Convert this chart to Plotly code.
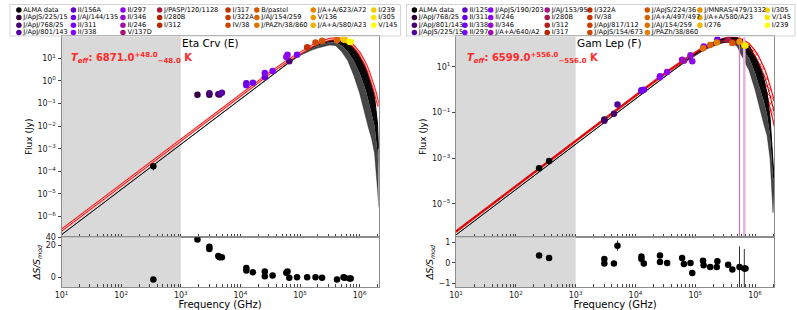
import numpy as np
import plotly.graph_objects as go

W, H = 797, 310

# ------------------------------------------------------------------ data
shade_ghz = [10, 1000]          # grey (sub-mm) band

left_star, right_star = "Eta Crv (E)", "Gam Lep (F)"
left_teff, left_teff_err = 6871.0, 48.0
right_teff, right_teff_err = 6599.0, 556.0

left_legend = ["ALMA data", "J/ApJS/225/15", "J/ApJ/768/25", "J/ApJ/801/143",
               "II/156A", "J/AJ/144/135", "II/311", "II/338",
               "II/297", "II/346", "II/246", "V/137D",
               "J/PASP/120/1128", "I/280B", "I/312",
               "I/317", "I/322A", "IV/38",
               "B/pastel", "J/AJ/154/259", "J/PAZh/38/860",
               "J/A+A/623/A72", "V/136", "J/A+A/580/A23",
               "I/239", "I/305", "V/145"]

right_legend = ["ALMA data", "J/ApJ/768/25", "J/ApJ/801/143", "J/ApJS/225/15",
                "II/125", "II/311", "II/338", "II/297",
                "J/ApJS/190/203", "II/246", "II/346", "J/A+A/640/A2",
                "J/AJ/153/95", "I/280B", "I/312", "I/317",
                "I/322A", "IV/38", "J/ApJ/817/112", "J/ApJS/154/673",
                "J/ApJS/224/36", "J/A+A/497/497", "J/AJ/154/259", "J/PAZh/38/860",
                "J/MNRAS/479/1332", "J/A+A/580/A23", "I/276",
                "I/305", "V/145", "I/239"]

# photometry, left star (GHz, Jy)
left_freq = [347, 1905, 3020, 3020, 4266, 4467, 4898, 12590, 12590, 16220,
             25700, 25700, 34670, 58880, 61660, 66070, 89130, 131800, 182000,
             234400, 416900, 537000, 562300, 676100, 707900]
left_flux = [1.66e-4, 0.24, 0.28, 0.24, 0.257, 0.25, 0.30, 0.78, 0.63, 0.83,
             2.24, 1.45, 2.69, 11.2, 14.1, 7.24, 14.1, 30.2, 49.0,
             58.9, 63.1, 69.2, 63.1, 53.7, 52.5]
left_cat = ["ALMA data", "J/ApJS/225/15", "J/ApJ/768/25", "J/ApJS/225/15", "J/ApJ/768/25",
            "J/ApJS/225/15", "J/ApJ/801/143", "II/156A", "J/AJ/144/135", "J/AJ/144/135",
            "II/311", "II/156A", "II/338", "II/297", "II/338", "J/ApJ/768/25", "II/311",
            "I/317", "IV/38", "B/pastel", "J/AJ/154/259", "I/239", "V/136", "V/145", "I/305"]
left_resid = [-0.4, 33, 17.3, 14.1, 7.6, 6.7, 6.7, 2.2, 1.55, 1.1,
              1.3, 0.26, 0.4, 1.0, 1.3, -0.06, 0.06, 0.06, 0.06,
              -0.06, -0.4, 0.06, -0.06, -0.2, -0.2]
left_resid_err = [0.2, 0.3, 0.3, 0.3, 0.2, 0.2, 0.2, 0.2, 0.2, 0.2,
                  0.2, 0.2, 0.2, 0.2, 0.2, 0.2, 0.2, 0.2, 0.2,
                  0.2, 0.2, 0.2, 0.2, 0.2, 0.2]

# photometry, right star (GHz, Jy)
right_freq = [245, 360, 3020, 3020, 4365, 5012, 12590, 12590, 13800, 25700,
              25700, 33880, 60260, 64570, 83180, 89130, 134900, 138000, 177800,
              229100, 234400, 354800, 416900, 549500, 660700, 691800]
right_flux = [3.55e-4, 7.41e-4, 0.049, 0.0437, 0.089, 0.224, 0.955, 0.89, 1.0, 3.89,
              3.55, 6.03, 20.9, 18.6, 32.4, 17.8, 66.1, 79.4, 93.3,
              117.5, 162, 162, 112, 129, 87.1, 87.1]
right_cat = ["ALMA data", "ALMA data", "J/ApJ/768/25", "J/ApJ/801/143", "J/ApJ/801/143",
             "J/ApJS/225/15", "II/125", "II/311", "II/338", "II/297", "J/ApJS/190/203",
             "II/246", "II/346", "J/A+A/640/A2", "II/346", "II/246", "J/AJ/154/259",
             "J/ApJS/190/203", "J/A+A/497/497", "J/PAZh/38/860", "II/311", "I/280B",
             "J/ApJS/224/36", "J/MNRAS/479/1332", "I/305", "V/145"]
right_resid = [0.36, 0.24, 0.19, -0.03, -0.03, 0.84, 0.31, 0.19, -0.03, 0.36,
               0.05, 0.0, 0.24, -0.05, 0.0, -0.48, 0.11, -0.11, -0.19,
               -0.19, 0.08, -0.08, -0.32, -0.19, -0.27, -0.27]
right_resid_err = [0.1, 0.12, 0.05, 0.05, 0.05, 0.25, 0.1, 0.08, 0.05, 0.1,
                   0.06, 0.04, 0.15, 0.05, 0.05, 0.05, 0.1, 0.05, 0.12,
                   0.05, 0.15, 0.05, 0.05, 1.0, 0.95, 0.05]

# model curves (log10 GHz, log10 Jy)
model_logfreq = [1, 4, 4.5, 4.8, 5.0, 5.1, 5.2, 5.3, 5.4, 5.5, 5.6, 5.7, 5.8, 5.9,
                 6.0, 6.05, 6.1, 6.15, 6.2, 6.25, 6.3, 6.32]
left_bb = [-6.60, -0.615, 0.351, 0.901, 1.239, 1.395, 1.538, 1.663, 1.764, 1.835, 1.864,
           1.837, 1.736, 1.537, 1.211, 0.991, 0.725, 0.409, 0.036, -0.40, -0.91, -1.133]
left_spec_hi = [-6.80, -0.80, 0.20, 0.80, 1.22, 1.38, 1.54, 1.68, 1.79, 1.85, 1.87,
                1.83, 1.70, 1.48, 1.12, 0.90, 0.62, 0.30, -0.15, -0.70, -1.90, -3.00]
left_spec_core = [-6.80, -0.80, 0.20, 0.78, 1.16, 1.30, 1.44, 1.56, 1.65, 1.70, 1.70,
                  1.55, 1.30, 0.90, 0.35, 0.00, -0.40, -0.90, -1.40, -2.00, -3.20, -4.00]
left_spec_lo = [-6.80, -0.80, 0.20, 0.76, 1.12, 1.25, 1.36, 1.45, 1.52, 1.58, 1.55,
                1.28, 0.90, 0.25, -0.55, -1.10, -1.65, -2.10, -2.55, -3.20, -4.80, -5.60]
right_bb = [-6.22, -0.236, 0.729, 1.277, 1.613, 1.767, 1.906, 2.028, 2.125, 2.189, 2.210,
            2.170, 2.053, 1.835, 1.484, 1.249, 0.966, 0.631, 0.237, -0.223, -0.758, -0.995]
right_bb_hi = [-6.185, -0.199, 0.769, 1.320, 1.662, 1.819, 1.964, 2.093, 2.199, 2.277, 2.314,
               2.297, 2.21, 2.03, 1.73, 1.524, 1.275, 0.977, 0.625, 0.213, -0.269, -0.483]
right_bb_lo = [-6.26, -0.275, 0.687, 1.229, 1.558, 1.707, 1.841, 1.954, 2.039, 2.088, 2.088,
               2.022, 1.869, 1.604, 1.193, 0.922, 0.600, 0.221, -0.224, -0.740, -1.338, -1.603]
right_spec_hi = [-6.37, -0.38, 0.61, 1.20, 1.60, 1.78, 1.93, 2.07, 2.18, 2.26, 2.29,
                 2.27, 2.18, 1.95, 1.50, 1.22, 0.90, 0.45, -0.15, -1.20, -3.20, -3.90]
right_spec_core = [-6.37, -0.38, 0.61, 1.17, 1.55, 1.72, 1.86, 1.99, 2.10, 2.17, 2.19,
                   2.08, 1.75, 1.40, 0.75, 0.35, -0.10, -0.55, -1.10, -2.00, -3.80, -4.00]
right_spec_lo = [-6.37, -0.38, 0.61, 1.15, 1.50, 1.66, 1.80, 1.92, 2.02, 2.08, 2.10,
                 1.90, 1.35, 0.85, 0.00, -0.55, -1.10, -1.55, -2.00, -3.00, -5.40, -4.30]

# ------------------------------------------------------------------ style
FONT = "DejaVu Sans"
XRANGE = [1, 6.32]
LEFT_YR = [-6.91, 1.96]
RIGHT_YR = [-6.47, 2.34]
LEFT_YDEC = list(range(-6, 2))
RIGHT_YDEC = [-5, -3, -1, 1]
ASINH_A = 2.3                       # scale of left residual axis
LEFT_RES_RANGE = [-0.867, 3.56]
RIGHT_RES_RANGE = [-1.18, 1.25]
XL = [55 / W, 375 / W]
XR = [453 / W, 774 / W]
YM = [1 - 237 / H, 1 - 33 / H]
YRS = [1 - 288 / H, 1 - 237 / H]
SPINE = "#8c8c8c"
SHADE = "#d9d9d9"
big_err_style = {"J/MNRAS/479/1332": ("#cf74c3", 1.2), "I/305": ("#e4b4de", 2.6)}


def gnuplot(t):
    r = np.sqrt(t)
    g = t ** 3
    b = float(np.clip(np.sin(2 * np.pi * t), 0, 1))
    return "rgb(%d,%d,%d)" % (round(255 * r), round(255 * g), round(255 * b))


def cmap(names):
    n = len(names)
    return {nm: gnuplot(i / (n - 1)) for i, nm in enumerate(names)}


def pow_label(k):
    return "10<sup>%s</sup>" % (("−%d" % -k) if k < 0 else "%d" % k)


fig = go.Figure()
mf = (10 ** np.array(model_logfreq)).tolist()


def shade(xa, ya, y0, y1):
    fig.add_trace(go.Scatter(x=[shade_ghz[0], shade_ghz[1], shade_ghz[1], shade_ghz[0], shade_ghz[0]],
                             y=[y0, y0, y1, y1, y0], fill="toself", fillcolor=SHADE,
                             line=dict(width=0), mode="lines", hoverinfo="skip",
                             xaxis=xa, yaxis=ya, showlegend=False))


def p10(a):
    return (10 ** np.array(a, float)).tolist()


def main_panel(xa, ya, yr, spec_hi, spec_core, spec_lo, bb, bb_hi, bb_lo,
               freq, flux, cat, res, rerr, colors, hatched):
    shade(xa, ya, 10 ** (yr[0] - 1), 10 ** (yr[1] + 1))
    if hatched:
        fig.add_trace(go.Scatter(x=mf, y=p10(bb_lo), mode="lines",
                                 line=dict(color="red", width=1.1), xaxis=xa, yaxis=ya, showlegend=False))
        fig.add_trace(go.Scatter(x=mf, y=p10(bb_hi), mode="lines", fill="tonexty",
                                 fillcolor="rgba(255,255,255,0)",
                                 fillpattern=dict(shape="x", fgcolor="red", bgcolor="rgba(255,255,255,0)",
                                                  size=5, solidity=0.25, fillmode="replace"),
                                 line=dict(color="red", width=1.1), xaxis=xa, yaxis=ya, showlegend=False))
    # stellar model spectrum: absorption-line spikes (dark grey) and dense core (black)
    fig.add_trace(go.Scatter(x=mf, y=p10(spec_lo), mode="lines",
                             line=dict(color="rgba(0,0,0,0.6)", width=0.6), xaxis=xa, yaxis=ya, showlegend=False))
    fig.add_trace(go.Scatter(x=mf, y=p10(spec_core), mode="lines", fill="tonexty",
                             fillcolor="rgba(0,0,0,0.72)", line=dict(width=0),
                             xaxis=xa, yaxis=ya, showlegend=False))
    fig.add_trace(go.Scatter(x=mf, y=p10(spec_hi), mode="lines", fill="tonexty",
                             fillcolor="rgba(0,0,0,0.97)",
                             line=dict(color="black", width=1), xaxis=xa, yaxis=ya, showlegend=False))
    if hatched:
        fig.add_trace(go.Scatter(x=mf, y=p10(bb), mode="lines",
                                 line=dict(color="#b00000", width=1), xaxis=xa, yaxis=ya, showlegend=False))
    else:
        fig.add_trace(go.Scatter(x=mf, y=p10(bb), mode="lines",
                                 line=dict(color="rgba(255,20,20,0.95)", width=3.0),
                                 xaxis=xa, yaxis=ya, showlegend=False))
        fig.add_trace(go.Scatter(x=mf, y=p10(bb), mode="lines",
                                 line=dict(color="#ffc8c8", width=1.0),
                                 xaxis=xa, yaxis=ya, showlegend=False))
    # photometry grouped by catalogue; flux error = (ΔS/S_mod error) x S_mod
    for nm in colors:
        idx = [i for i, c in enumerate(cat) if c == nm]
        if not idx:
            continue
        ecol, ew = big_err_style.get(nm, (colors[nm], 1))
        fig.add_trace(go.Scatter(
            x=[freq[i] for i in idx], y=[flux[i] for i in idx], mode="markers",
            marker=dict(color=colors[nm], size=6.5, line=dict(width=0)),
            error_y=dict(type="data", array=[rerr[i] * flux[i] / (1 + res[i]) for i in idx],
                         color=ecol, thickness=ew, width=0),
            name=nm, xaxis=xa, yaxis=ya, showlegend=False))


def resid_panel(xa, ya, yr, freq, res, err, transform):
    shade(xa, ya, yr[0] - 5, yr[1] + 5)
    r = np.array(res, float)
    e = np.array(err, float)
    y = transform(r)
    fig.add_trace(go.Scatter(
        x=freq, y=y.tolist(), mode="markers", marker=dict(color="black", size=6.5),
        error_y=dict(type="data", symmetric=False, array=(transform(r + e) - y).tolist(),
                     arrayminus=(y - transform(r - e)).tolist(), color="#333333", thickness=1, width=0),
        xaxis=xa, yaxis=ya, showlegend=False))


lcol = cmap(left_legend)
rcol = cmap(right_legend)
asinh_t = lambda v: np.arcsinh(np.asarray(v, float) / ASINH_A)
ident = lambda v: np.asarray(v, float)

main_panel("x", "y", LEFT_YR, left_spec_hi, left_spec_core, left_spec_lo, left_bb, None, None,
           left_freq, left_flux, left_cat, left_resid, left_resid_err, lcol, False)
resid_panel("x2", "y2", LEFT_RES_RANGE, left_freq, left_resid, left_resid_err, asinh_t)
main_panel("x3", "y3", RIGHT_YR, right_spec_hi, right_spec_core, right_spec_lo, right_bb,
           right_bb_hi, right_bb_lo, right_freq, right_flux, right_cat, right_resid,
           right_resid_err, rcol, True)
resid_panel("x4", "y4", RIGHT_RES_RANGE, right_freq, right_resid, right_resid_err, ident)

# ------------------------------------------------------------------ legends (column-major, 8 cols)
left_cols_px = [12, 67, 117, 154, 223, 252, 309, 370]
right_cols_px = [411, 462, 488, 545, 588, 646, 699, 767]
rows_px = [6, 13.8, 21.5, 29]


def legend(names, colors, cols_px):
    n, ncol = len(names), 8
    nrow = int(np.ceil(n / ncol))
    full = n - ncol * (nrow - 1)
    xs, ys = [], []
    k = 0
    for c in range(ncol):
        rows = nrow if c < full else nrow - 1
        for r in range(rows):
            if k < n:
                xs.append(cols_px[c])
                ys.append(rows_px[r])
                k += 1
    fig.add_trace(go.Scatter(x=xs, y=ys, mode="markers+text", text=names,
                             textposition="middle right",
                             textfont=dict(size=6.6, color="black", family=FONT),
                             marker=dict(color=[colors[nm] for nm in names], size=5.5),
                             xaxis="x5", yaxis="y5", showlegend=False, cliponaxis=False))


legend(left_legend, lcol, left_cols_px)
legend(right_legend, rcol, right_cols_px)

# ------------------------------------------------------------------ axes
xtickvals, xticktext = [], []
for d in range(1, 7):
    for m in range(1, 10):
        v = m * 10 ** d
        if np.log10(v) <= XRANGE[1]:
            xtickvals.append(v)
            xticktext.append(pow_label(d) if m == 1 else "")

tickfont = dict(size=8, family=FONT, color="#222")
common_x = dict(type="log", range=XRANGE, showgrid=False, zeroline=False, showline=True,
                linecolor=SPINE, linewidth=1, mirror=True,
                tickmode="array", tickvals=xtickvals, ticktext=xticktext,
                ticks="inside", ticklen=3, tickcolor="#444", tickfont=tickfont)
common_y = dict(showgrid=False, zeroline=False, showline=True, linecolor=SPINE, linewidth=1,
                mirror=True, ticks="outside", ticklen=3, tickcolor="#444", tickfont=tickfont)
title_font = dict(size=9, family=FONT, color="black")

fig.update_layout(
    width=W, height=H, margin=dict(l=0, r=0, t=0, b=0),
    paper_bgcolor="white", plot_bgcolor="rgba(0,0,0,0)", showlegend=False,
    font=dict(family=FONT, size=9, color="black"),
    xaxis=dict(common_x, domain=XL, anchor="y", showticklabels=False),
    yaxis=dict(common_y, domain=YM, anchor="x", type="log", range=LEFT_YR,
               tickmode="array", tickvals=[10.0 ** k for k in LEFT_YDEC],
               ticktext=[pow_label(k) for k in LEFT_YDEC],
               title=dict(text="Flux (Jy)", font=title_font, standoff=3)),
    xaxis2=dict(common_x, domain=XL, anchor="y2",
                title=dict(text="Frequency (GHz)", font=dict(size=10, family=FONT), standoff=0)),
    yaxis2=dict(common_y, domain=YRS, anchor="x2", range=LEFT_RES_RANGE,
                tickmode="array", tickvals=asinh_t([0, 20, 40]).tolist(), ticktext=["0", "20", "40"],
                title=dict(text="<i>ΔS/S<sub>mod</sub></i>", font=title_font, standoff=3)),
    xaxis3=dict(common_x, domain=XR, anchor="y3", showticklabels=False),
    yaxis3=dict(common_y, domain=YM, anchor="x3", type="log", range=RIGHT_YR,
                tickmode="array", tickvals=[10.0 ** k for k in RIGHT_YDEC],
                ticktext=[pow_label(k) for k in RIGHT_YDEC],
                title=dict(text="Flux (Jy)", font=title_font, standoff=3)),
    xaxis4=dict(common_x, domain=XR, anchor="y4",
                title=dict(text="Frequency (GHz)", font=dict(size=10, family=FONT), standoff=0)),
    yaxis4=dict(common_y, domain=YRS, anchor="x4", range=RIGHT_RES_RANGE,
                tickmode="array", tickvals=[-1, 0, 1], ticktext=["−1", "0", "1"],
                title=dict(text="<i>ΔS/S<sub>mod</sub></i>", font=title_font, standoff=3)),
    xaxis5=dict(domain=[0, 1], range=[0, W], visible=False, anchor="y5", fixedrange=True),
    yaxis5=dict(domain=[0, 1], range=[H, 0], visible=False, anchor="x5", fixedrange=True),
)

# legend frames
for x0, x1 in [(3, 397), (403, 795)]:
    fig.add_shape(type="rect", xref="x5", yref="y5", x0=x0, x1=x1, y0=0.5, y1=32.5,
                  line=dict(color="#d4d4d4", width=1), layer="below")

# star names and Teff labels
teff_fmt = "<b><i>T<sub>eff</sub></i>: {:.1f}<sup>+{:.1f}</sup><sub>−{:.1f}</sub> K</b>"
for name, x_title, teff, terr, x_teff in [(left_star, 175, left_teff, left_teff_err, 63),
                                          (right_star, 573, right_teff, right_teff_err, 462)]:
    fig.add_annotation(text=name, xref="paper", yref="paper", x=x_title / W, y=1 - 40 / H,
                       xanchor="left", yanchor="middle", showarrow=False,
                       font=dict(size=10.5, family=FONT, color="black"))
    fig.add_annotation(text=teff_fmt.format(teff, terr, terr), xref="paper", yref="paper",
                       x=x_teff / W, y=1 - 55 / H, xanchor="left", yanchor="middle",
                       showarrow=False, font=dict(size=10, family=FONT, color="#ff2a2a"))

fig.write_html("out.html", config={"displayModeBar": False},
               post_script="document.body.style.margin='0px';")
